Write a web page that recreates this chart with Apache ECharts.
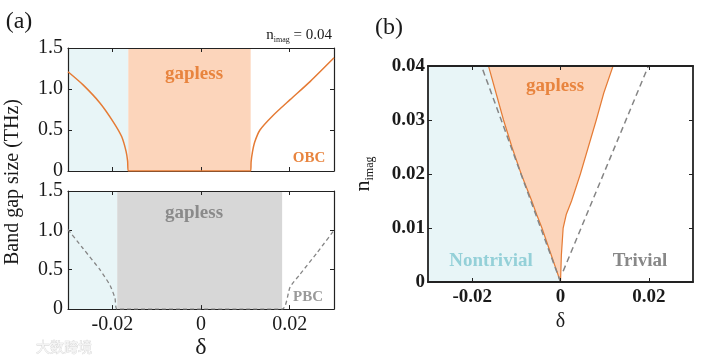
<!DOCTYPE html>
<html><head><meta charset="utf-8">
<script src="https://cdn.jsdelivr.net/npm/echarts@6/dist/echarts.min.js"></script>
<style>html,body{margin:0;padding:0;background:#fff}#c{width:714px;height:361px}</style>
</head><body><div id="c"></div>
<script>
// ---------- data ----------
const deltaMin = -0.03, deltaMax = 0.03;
const gapTicks = [0, 0.5, 1.0, 1.5];
const gapTickLabels = ['0', '0.5', '1.0', '1.5'];
const deltaTicks = [-0.02, 0, 0.02];
const deltaTickLabels = ['-0.02', '0', '0.02'];
const nimagTicks = [0, 0.01, 0.02, 0.03, 0.04];
const nimagTickLabels = ['0', '0.01', '0.02', '0.03', '0.04'];

// (a) OBC band gap (n_imag = 0.04)
const obcDelta = [-0.03, -0.0266, -0.0228, -0.0198, -0.0179, -0.0169, -0.01655, -0.0164, 0.0112, 0.0113, 0.0116, 0.0121, 0.0133, 0.0163, 0.0201, 0.0246, 0.03];
const obcGap   = [1.21, 1.05, 0.83, 0.60, 0.42, 0.24, 0.12, 0, 0, 0.11, 0.23, 0.35, 0.50, 0.68, 0.87, 1.09, 1.38];
const obcGaplessEdges = [-0.0164, 0.0112];

// (a) PBC band gap
const pbcDelta = [-0.03, -0.0266, -0.0228, -0.0205, -0.0194, -0.0189, 0.0183, 0.0201, 0.0223, 0.0261, 0.03];
const pbcGap   = [1.01, 0.77, 0.50, 0.30, 0.14, 0, 0, 0.28, 0.44, 0.71, 1.0];
const pbcGaplessEdges = [-0.0189, 0.0183];

// (b) phase diagram
const phaseNimag     = [0, 0.005, 0.01, 0.0125, 0.015, 0.02, 0.025, 0.03, 0.035, 0.04];
const gapLeftDelta   = [0, -0.0021, -0.0042, -0.0054, -0.0065, -0.0089, -0.0110, -0.0129, -0.0146, -0.0163];
const gapRightDelta  = [0, 0.0002, 0.0006, 0.0013, 0.0025, 0.0045, 0.0063, 0.0081, 0.0098, 0.0119];
const pbcLeftDelta   = [0, -0.0179];
const pbcLeftNimag   = [0, 0.04];
const pbcRightDelta  = [0.0006, 0.0199];
const pbcRightNimag  = [0.002, 0.04];

// ---------- style ----------
const SERIF = '"Liberation Serif", "DejaVu Serif", serif';
const C_BLUE = '#e8f5f7', C_ORANGE_FILL = '#fcd5bb', C_GRAY_FILL = '#d7d7d7';
const C_ORANGE = '#e57b35', C_DASH = '#858585';

const zip = (a, b) => a.map((v, i) => [v, b[i]]);

function xAx(grid, pos, withLabels, opts) {
  return Object.assign({
    type: 'value', gridIndex: grid, position: pos, min: deltaMin, max: deltaMax, z: 10,
    axisLine: { show: true, onZero: false, lineStyle: { color: '#222', width: opts && opts.lw || 1.2 } },
    axisTick: { show: true, inside: true, length: 4, customValues: deltaTicks, lineStyle: { color: '#222' } },
    axisLabel: { show: withLabels, customValues: deltaTicks, margin: 6,
      formatter: v => deltaTickLabels[deltaTicks.findIndex(t => Math.abs(t - v) < 1e-9)] ?? '',
      fontFamily: SERIF, fontSize: (opts && opts.fs) || 20, color: '#1a1a1a', fontWeight: (opts && opts.fw) || 'normal' },
    splitLine: { show: false }
  }, opts && opts.extra || {});
}
function yAx(grid, pos, withLabels, ticks, labels, max, opts) {
  return Object.assign({
    type: 'value', gridIndex: grid, position: pos, min: 0, max: max, z: 10,
    axisLine: { show: true, onZero: false, lineStyle: { color: '#222', width: opts && opts.lw || 1.2 } },
    axisTick: { show: true, inside: true, length: 4, customValues: ticks, lineStyle: { color: '#222' } },
    axisLabel: { show: withLabels, customValues: ticks, margin: (opts && opts.margin) || 5,
      formatter: v => labels[ticks.findIndex(t => Math.abs(t - v) < 1e-9)] ?? '',
      fontFamily: SERIF, fontSize: (opts && opts.fs) || 20, color: '#1a1a1a', fontWeight: (opts && opts.fw) || 'normal' },
    splitLine: { show: false }
  }, opts && opts.extra || {});
}

function polygonSeries(xi, yi, pointsFn, fill, stroke, z) {
  return {
    type: 'custom', xAxisIndex: xi, yAxisIndex: yi, z: z, silent: true, clip: true,
    data: [[0, 0]],
    renderItem: (params, api) => ({
      type: 'polygon',
      shape: { points: pointsFn().map(p => api.coord(p)) },
      style: { fill: fill, stroke: stroke || 'none', lineWidth: stroke ? 1.2 : 0 }
    })
  };
}

const blueRegion = () => [[deltaMin, 0], ...zip(gapLeftDelta, phaseNimag), [deltaMin, phaseNimag[phaseNimag.length - 1]]];
const gaplessRegion = () => [...zip(gapLeftDelta, phaseNimag), ...zip(gapRightDelta, phaseNimag).reverse()];

const bold = (size) => `bold ${size}px ${SERIF}`;

const option = {
  animation: false,
  backgroundColor: '#fff',
  grid: [
    { left: 68, top: 48, width: 266, height: 123 },
    { left: 68, top: 191, width: 266, height: 122 },
    { left: 428, top: 66, width: 265, height: 216 }
  ],
  xAxis: [
    xAx(0, 'bottom', false),
    xAx(0, 'top', false),
    xAx(1, 'bottom', true, { extra: { name: 'δ', nameLocation: 'middle', nameGap: 22,
      nameTextStyle: { fontFamily: SERIF, fontSize: 24, color: '#1a1a1a' } } }),
    xAx(1, 'top', false),
    xAx(2, 'bottom', true, { fs: 19, fw: 'bold', lw: 1.8, extra: { name: 'δ', nameLocation: 'middle', nameGap: 16,
      nameTextStyle: { fontFamily: SERIF, fontSize: 20, color: '#1a1a1a' } } }),
    xAx(2, 'top', false, { lw: 1.8 })
  ],
  yAxis: [
    yAx(0, 'left', true, gapTicks, gapTickLabels, 1.5),
    yAx(0, 'right', false, gapTicks, gapTickLabels, 1.5),
    yAx(1, 'left', true, gapTicks, gapTickLabels, 1.5),
    yAx(1, 'right', false, gapTicks, gapTickLabels, 1.5),
    yAx(2, 'left', true, nimagTicks, nimagTickLabels, 0.04, { fs: 19, fw: 'bold', lw: 1.8, margin: 3, extra: {
      name: '{n|n}{s|imag}', nameLocation: 'middle', nameRotate: 90, nameGap: 52,
      nameTextStyle: { fontFamily: SERIF, color: '#1a1a1a',
        rich: { n: { fontFamily: SERIF, fontSize: 22, lineHeight: 26, color: '#1a1a1a' },
                s: { fontFamily: SERIF, fontSize: 12, lineHeight: 14, verticalAlign: 'bottom', color: '#1a1a1a' } } } } }),
    yAx(2, 'right', false, nimagTicks, nimagTickLabels, 0.04, { lw: 1.8 })
  ],
  series: [
    { type: 'line', xAxisIndex: 0, yAxisIndex: 0, data: [], silent: true, z: 1,
      markArea: { silent: true, data: [
        [{ xAxis: deltaMin, itemStyle: { color: C_BLUE } }, { xAxis: obcGaplessEdges[0] }],
        [{ xAxis: obcGaplessEdges[0], itemStyle: { color: C_ORANGE_FILL } }, { xAxis: obcGaplessEdges[1] }]
      ] } },
    { type: 'line', xAxisIndex: 0, yAxisIndex: 0, data: zip(obcDelta, obcGap), z: 12,
      showSymbol: false, smooth: 0.25, lineStyle: { color: C_ORANGE, width: 1.5 } },
    { type: 'line', xAxisIndex: 2, yAxisIndex: 2, data: [], silent: true, z: 1,
      markArea: { silent: true, data: [
        [{ xAxis: deltaMin, itemStyle: { color: C_BLUE } }, { xAxis: pbcGaplessEdges[0] }],
        [{ xAxis: pbcGaplessEdges[0], itemStyle: { color: C_GRAY_FILL } }, { xAxis: pbcGaplessEdges[1] }]
      ] } },
    { type: 'line', xAxisIndex: 2, yAxisIndex: 2, data: zip(pbcDelta, pbcGap), z: 12,
      showSymbol: false, smooth: 0.2, lineStyle: { color: C_DASH, width: 1.3, type: [4, 3] } },
    polygonSeries(4, 4, blueRegion, C_BLUE, null, 1),
    polygonSeries(4, 4, gaplessRegion, C_ORANGE_FILL, C_ORANGE, 2),
    { type: 'line', xAxisIndex: 4, yAxisIndex: 4, data: zip(pbcLeftDelta, pbcLeftNimag), z: 5,
      showSymbol: false, lineStyle: { color: C_DASH, width: 1.5, type: [6, 4] } },
    { type: 'line', xAxisIndex: 4, yAxisIndex: 4, data: zip(pbcRightDelta, pbcRightNimag), z: 5,
      showSymbol: false, lineStyle: { color: C_DASH, width: 1.5, type: [6, 4] } }
  ],
  graphic: [
    { type: 'text', x: 19, y: 22, z: 20, style: { text: '(a)', font: `24px ${SERIF}`, fill: '#1a1a1a', align: 'center', verticalAlign: 'middle' } },
    { type: 'text', x: 389, y: 28, z: 20, style: { text: '(b)', font: `24px ${SERIF}`, fill: '#1a1a1a', align: 'center', verticalAlign: 'middle' } },
    { type: 'text', x: 332, y: 35, z: 20, style: { text: '{n|n}{s|imag}{n| = 0.04}', align: 'right', verticalAlign: 'middle',
      rich: { n: { fontFamily: SERIF, fontSize: 15, lineHeight: 18, fill: '#1a1a1a' },
              s: { fontFamily: SERIF, fontSize: 8, lineHeight: 10, verticalAlign: 'bottom', fill: '#1a1a1a' } } } },
    { type: 'text', x: 13, y: 182, z: 20, rotation: Math.PI / 2, style: { text: 'Band gap size (THz)', font: `20px ${SERIF}`, fill: '#1a1a1a', align: 'center', verticalAlign: 'middle' } },
    { type: 'text', x: 194, y: 74, z: 20, style: { text: 'gapless', font: bold(19), fill: '#e8843e', align: 'center', verticalAlign: 'middle' } },
    { type: 'text', x: 309, y: 158, z: 20, style: { text: 'OBC', font: bold(15), fill: '#e8843e', align: 'center', verticalAlign: 'middle' } },
    { type: 'text', x: 194, y: 213, z: 20, style: { text: 'gapless', font: bold(19), fill: '#8a8a8a', align: 'center', verticalAlign: 'middle' } },
    { type: 'text', x: 308, y: 297, z: 20, style: { text: 'PBC', font: bold(15), fill: '#9a9a9a', align: 'center', verticalAlign: 'middle' } },
    { type: 'text', x: 555, y: 86, z: 20, style: { text: 'gapless', font: bold(19), fill: '#e8843e', align: 'center', verticalAlign: 'middle' } },
    { type: 'text', x: 491, y: 261, z: 20, style: { text: 'Nontrivial', font: bold(19), fill: '#94d0d8', align: 'center', verticalAlign: 'middle' } },
    { type: 'text', x: 640, y: 261, z: 20, style: { text: 'Trivial', font: bold(19), fill: '#888888', align: 'center', verticalAlign: 'middle' } },
    { type: 'text', x: 64, y: 347, z: 20, style: { text: '大数跨境', font: `14px "Noto Sans CJK SC"`, fill: '#f4f4f4', stroke: '#d0d0d0', lineWidth: 0.6, align: 'center', verticalAlign: 'middle' } }
  ]
};
echarts.init(document.getElementById('c'), null, { renderer: 'canvas' }).setOption(option);
</script>
</body></html>
